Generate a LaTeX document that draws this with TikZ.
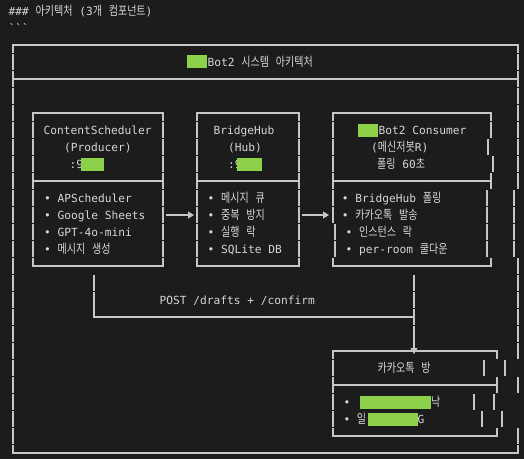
\documentclass[tikz,border=0pt]{standalone}
\usepackage{fontspec}
\setmonofont{DejaVu Sans Mono}
\newfontfamily\krfont[Scale=1.12, FakeStretch=0.8]{Noto Sans CJK KR}
\newcommand{\kr}[1]{{\krfont #1}}
\usetikzlibrary{arrows.meta, positioning}

\definecolor{termbg}{HTML}{1C1C1C}
\definecolor{termfg}{HTML}{D6D6D6}
\definecolor{termline}{HTML}{C6C6C6}
\definecolor{redact}{HTML}{8DD14B}

% one text row is 17px high, row 0 sits at y=45
\newcommand{\rowpipe}[2]{\draw[frame] (#1,{45+17*#2-7.75}) -- ++(0,15.5);}
\newcommand{\termtop}[3]{\draw[frame] (#1,{45+17*#3+7.75}) -- (#1,{45+17*#3}) -- (#2,{45+17*#3}) -- (#2,{45+17*#3+7.75});}
\newcommand{\termmid}[3]{\draw[frame] (#1,{45+17*#3-7.75}) -- ++(0,15.5) (#1,{45+17*#3}) -- (#2,{45+17*#3}) (#2,{45+17*#3-7.75}) -- ++(0,15.5);}
\newcommand{\termbot}[3]{\draw[frame] (#1,{45+17*#3-7.75}) -- (#1,{45+17*#3}) -- (#2,{45+17*#3}) -- (#2,{45+17*#3-7.75});}

\begin{document}
\begin{tikzpicture}[x=1pt, y=-1pt, font=\ttfamily\fontsize{11.2}{13}\selectfont]
        % Define styles
        \tikzset{
            txt/.style={anchor=west, inner sep=0pt, text height=9pt, text depth=1pt, text=termfg},
            frame/.style={draw=termline, line width=1.1pt},
            flow/.style={frame, -{Triangle[length=6pt, width=7pt]}},
            hidden/.style={fill=redact}
        }
        % Terminal background
        \fill[termbg] (0,0) rectangle (524,459);
        \useasboundingbox (0,0) rectangle (524,459);
        % Markdown heading
        \node[txt] (hdr) at (8.5,11) {\#\#\# \kr{아키텍처} (3\kr{개} \kr{컴포넌트})};
        \node[txt] (fence) at (8.5,28) {\char96\char96\char96};
        % Outer frame with title bar
        \termtop{13}{518}{0}
        \termmid{13}{518}{2}
        \termbot{13}{518}{24}
        \foreach \r in {1,3,4,...,23} \rowpipe{13}{\r};
        \foreach \r in {1,3,4,...,8} \rowpipe{518}{\r};
        \foreach \r in {13,14,...,18} \rowpipe{518}{\r};
        \foreach \r in {20,23} \rowpipe{518}{\r};
        \foreach \r in {9,...,12} \rowpipe{514}{\r};
        \rowpipe{505}{19} \rowpipe{494}{21} \rowpipe{502}{22}
        \fill[hidden] (187,55) rectangle (207,68);
        \node[txt] (title) at (207.5,62) {Bot2 \kr{시스템} \kr{아키텍처}};
        % ContentScheduler (Producer)
        \termtop{33}{163}{4}
        \termmid{33}{163}{8}
        \termbot{33}{163}{13}
        \foreach \r in {5,6,7,9,10,11,12} {\rowpipe{33}{\r} \rowpipe{163}{\r}}
        \node[txt] (csName) at (43.5,130) {ContentScheduler};
        \node[txt] (csRole) at (64,147) {(Producer)};
        \node[txt] (csPort) at (69.5,164) {:9};
        \fill[hidden] (81,157.5) rectangle (104,170.5);
        \foreach \t [count=\i] in {APScheduler, Google Sheets, GPT-4o-mini, \kr{메시지} \kr{생성}}
            \node[txt] (cs\i) at (44,{45+17*(\i+8)}) {• \t};
        % BridgeHub (Hub)
        \termtop{197}{299}{4}
        \termmid{197}{299}{8}
        \termbot{197}{299}{13}
        \foreach \r in {5,6,7,9,10,11,12} {\rowpipe{197}{\r} \rowpipe{299}{\r}}
        \node[txt] (hubName) at (213.5,130) {BridgeHub};
        \node[txt] (hubRole) at (228,147) {(Hub)};
        \node[txt] (hubPort) at (228,164) {:9};
        \fill[hidden] (237,157.5) rectangle (262,170.5);
        \foreach \t [count=\i] in {\kr{메시지} \kr{큐}, \kr{중복} \kr{방지}, \kr{실행} \kr{락}, SQLite DB}
            \node[txt] (hub\i) at (207.5,{45+17*(\i+8)}) {• \t};
        % Bot2 Consumer
        \termtop{333}{491}{4}
        \termmid{333}{491}{8}
        \termbot{333}{491}{13}
        \foreach \r in {5,6,7,9,10} \rowpipe{333}{\r};
        \rowpipe{335}{11} \rowpipe{335}{12}
        \rowpipe{491}{5} \rowpipe{488}{6} \rowpipe{493}{7}
        \foreach \r in {9,...,12} \rowpipe{487}{\r};
        \fill[hidden] (358,123.5) rectangle (378,136.5);
        \node[txt] (botName) at (378.5,130) {Bot2 Consumer};
        \node[txt] (botRole) at (371,147) {(\kr{메신저봇}R)};
        \node[txt] (botPoll) at (377,164) {\kr{폴링} 60\kr{초}};
        \node[txt] (bot1) at (341.7,198) {• BridgeHub \kr{폴링}};
        \node[txt] (bot2) at (341.7,215) {• \kr{카카오톡} \kr{발송}};
        \node[txt] (bot3) at (345.5,232) {• \kr{인스턴스} \kr{락}};
        \node[txt] (bot4) at (345.5,249) {• per-room \kr{쿨다운}};
        % Flow between the components
        \coordinate (csOut) at (166,215);
        \coordinate (hubIn) at (194,215);
        \coordinate (hubOut) at (301.5,215);
        \coordinate (botIn) at (329,215);
        \draw[flow] (csOut) -- (hubIn);
        \draw[flow] (hubOut) -- (botIn);
        % POST bracket
        \rowpipe{94}{14}
        \draw[frame] (94,292.25) -- (94,317) -- (414,317);
        \foreach \r in {14,15,16} \rowpipe{414}{\r};
        \node[txt] (post) at (159.5,300) {POST /drafts + /confirm};
        \coordinate (postOut) at (414,326.25);
        \coordinate (roomIn) at (414,354);
        \draw[flow] (postOut) -- (roomIn);
        % KakaoTalk room
        \termtop{333}{497}{18}
        \termmid{333}{497}{20}
        \termbot{333}{497}{23}
        \foreach \r in {19,21,22} \rowpipe{333}{\r};
        \rowpipe{484}{19} \rowpipe{474}{21} \rowpipe{482}{22}
        \node[txt] (roomName) at (377.5,368) {\kr{카카오톡} \kr{방}};
        \node[txt] (room1) at (343.3,402) {•};
        \fill[hidden] (360,395.5) rectangle (431,408.5);
        \node[txt] (room1End) at (431,402) {\kr{낙}};
        \node[txt] (room2) at (343.3,419) {• \kr{일}};
        \fill[hidden] (368,412.5) rectangle (418,425.5);
        \node[txt] (room2End) at (417.5,419) {G};
    \end{tikzpicture}
\end{document}
